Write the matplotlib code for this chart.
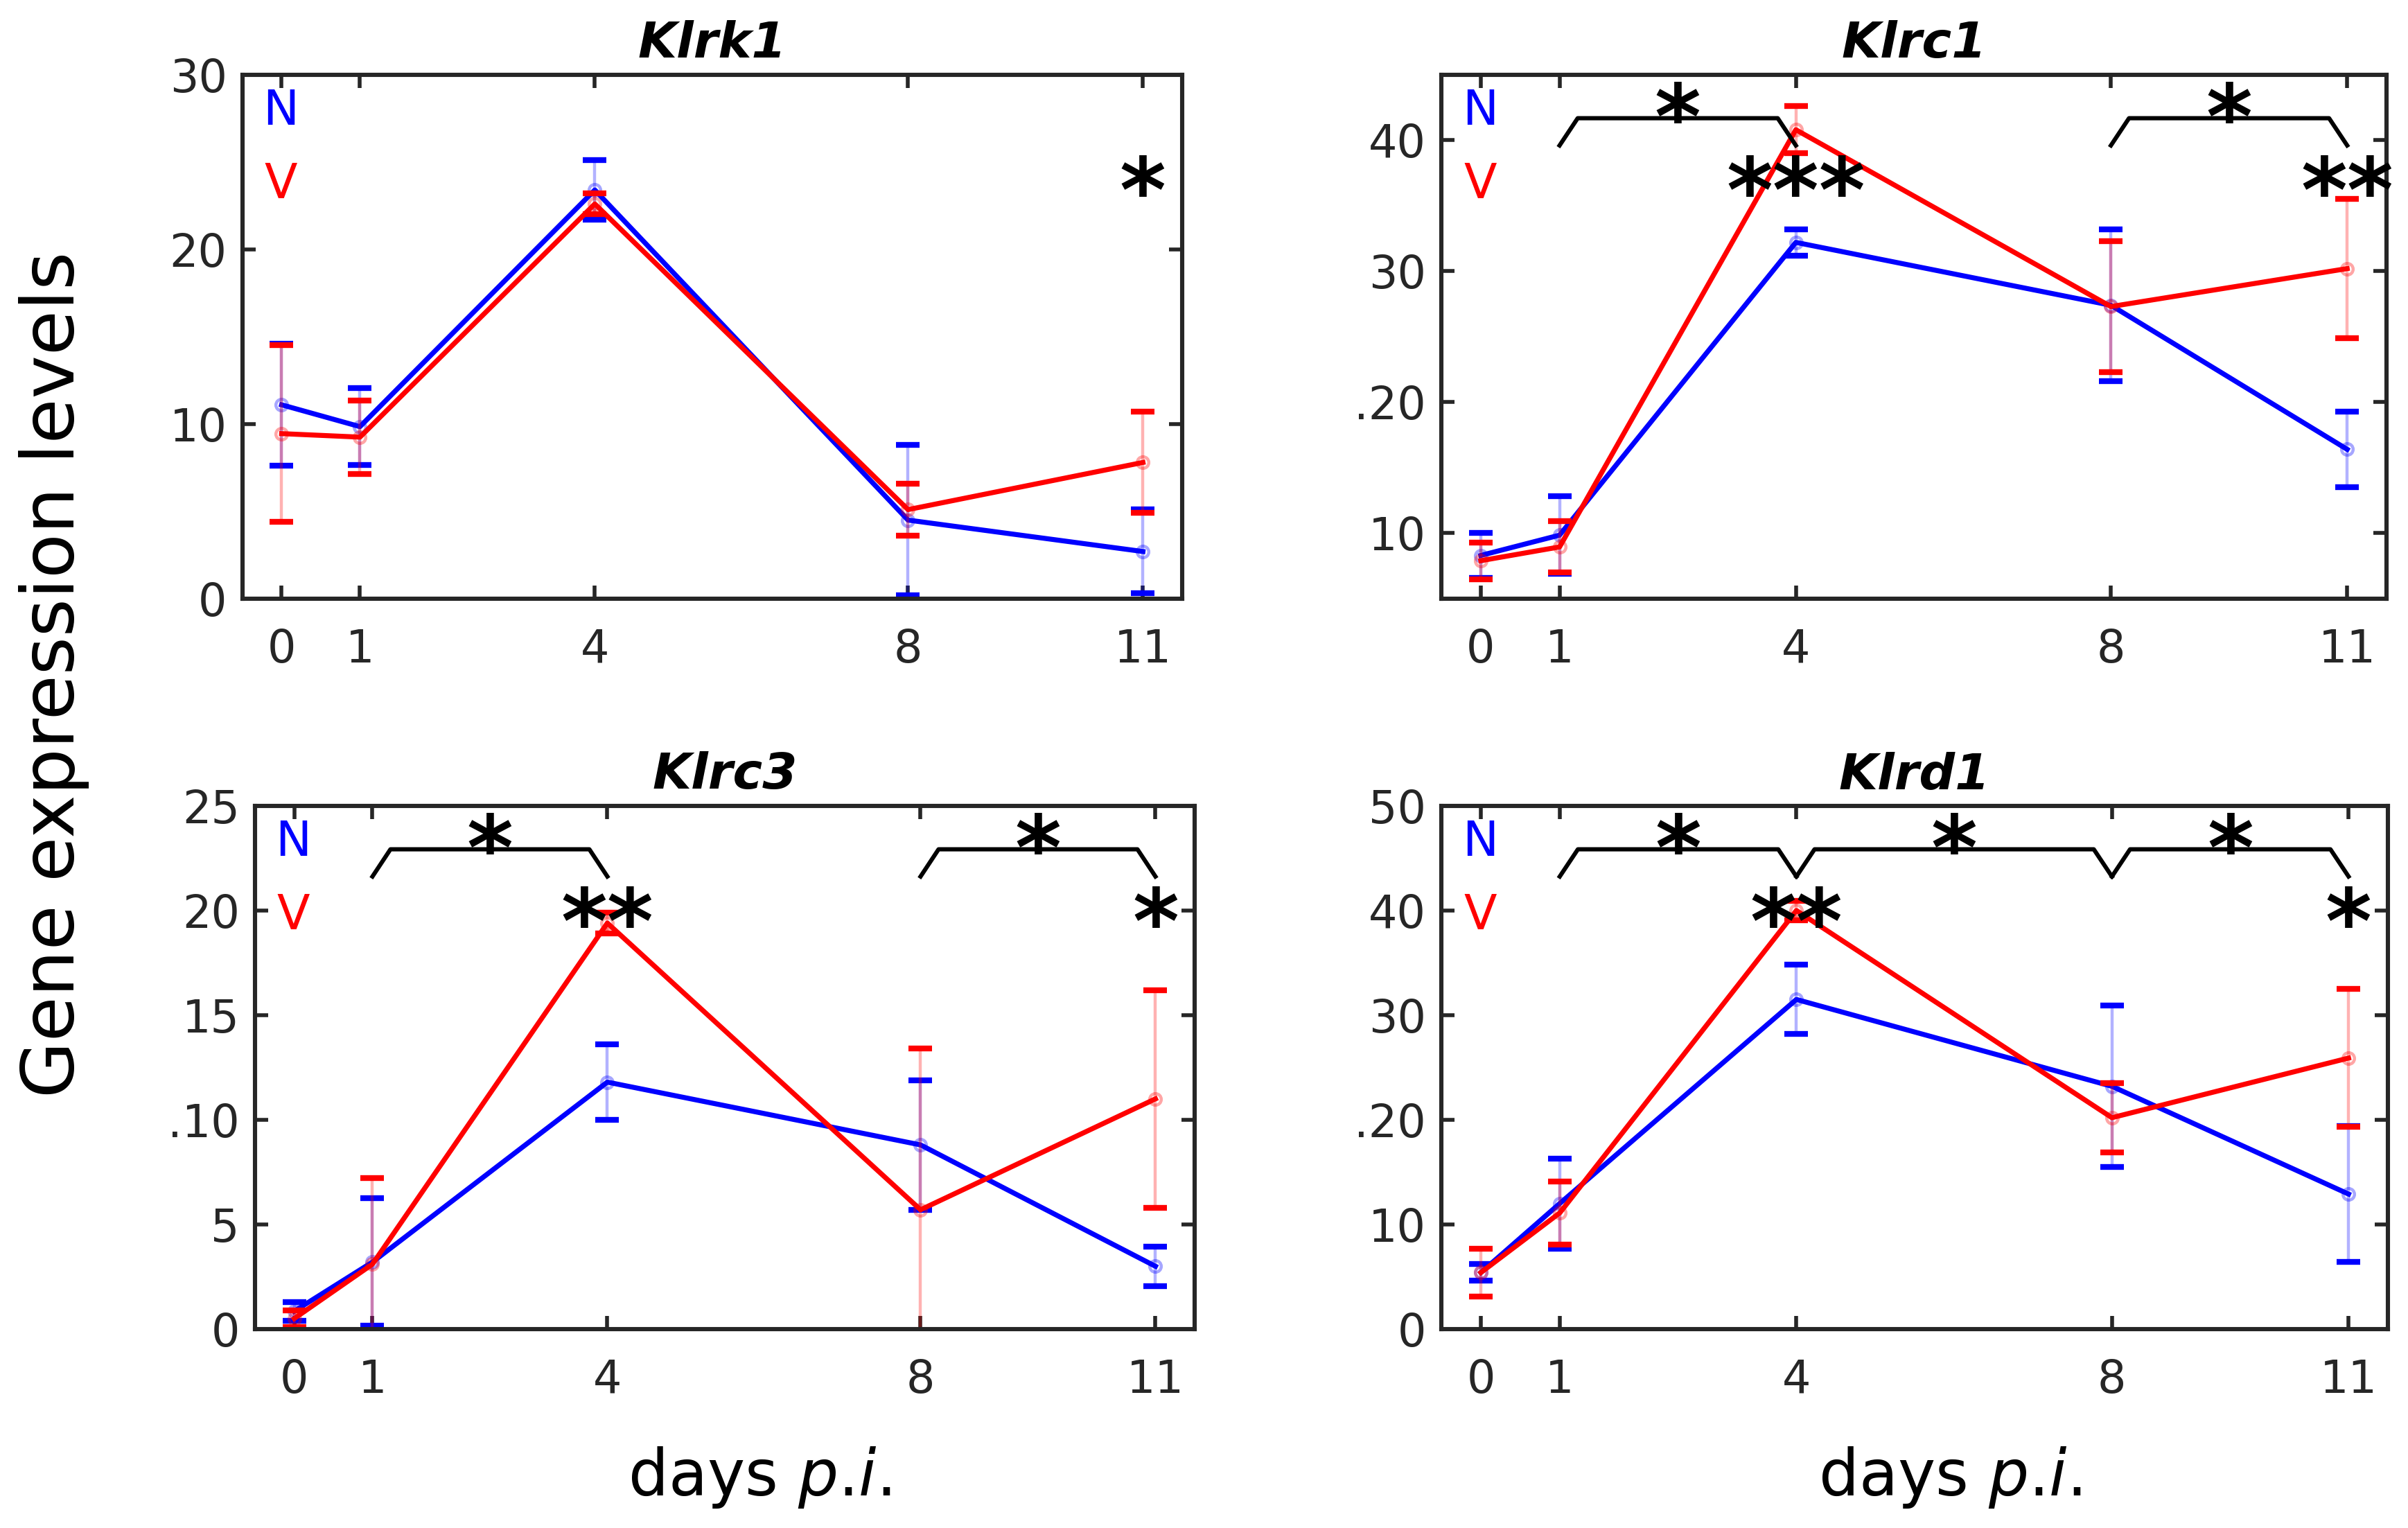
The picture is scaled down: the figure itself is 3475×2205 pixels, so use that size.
import matplotlib
matplotlib.use('Agg')
import matplotlib.pyplot as plt
import matplotlib.transforms as mtransforms

plt.rcParams['font.family'] = ['DejaVu Sans']
plt.rcParams['mathtext.fontset'] = 'dejavusans'

# data
days = [0, 1, 4, 8, 11]
genes = ['Klrk1', 'Klrc1', 'Klrc3', 'Klrd1']

klrk1_n = [11.1, 9.85, 23.4, 4.5, 2.7]
klrk1_n_err = [3.5, 2.2, 1.7, 4.3, 2.4]
klrk1_v = [9.45, 9.25, 22.6, 5.1, 7.8]
klrk1_v_err = [5.05, 2.1, 0.6, 1.5, 2.9]

klrc1_n = [8.3, 9.85, 32.2, 27.4, 16.4]
klrc1_n_err = [1.7, 2.95, 1.0, 5.8, 2.9]
klrc1_v = [7.9, 8.95, 40.8, 27.3, 30.2]
klrc1_v_err = [1.4, 1.95, 1.8, 5.0, 5.3]

klrc3_n = [0.85, 3.2, 11.8, 8.8, 3.0]
klrc3_n_err = [0.45, 3.05, 1.8, 3.1, 0.95]
klrc3_v = [0.5, 3.1, 19.4, 5.7, 11.0]
klrc3_v_err = [0.4, 4.1, 0.5, 7.7, 5.2]

klrd1_n = [5.4, 12.0, 31.5, 23.2, 12.9]
klrd1_n_err = [0.8, 4.3, 3.3, 7.7, 6.5]
klrd1_v = [5.4, 11.1, 40.0, 20.2, 25.9]
klrd1_v_err = [2.3, 3.0, 0.9, 3.3, 6.6]

n_means = [klrk1_n, klrc1_n, klrc3_n, klrd1_n]
n_errs = [klrk1_n_err, klrc1_n_err, klrc3_n_err, klrd1_n_err]
v_means = [klrk1_v, klrc1_v, klrc3_v, klrd1_v]
v_errs = [klrk1_v_err, klrc1_v_err, klrc3_v_err, klrd1_v_err]

ylims = [(0, 30), (5, 45), (0, 25), (0, 50)]
yticks = [[0, 10, 20, 30], [10, 20, 30, 40], [0, 5, 10, 15, 20, 25], [0, 10, 20, 30, 40, 50]]
ytick_labels = [['0', '10', '20', '30'],
                ['10', '.20', '30', '40'],
                ['0', '5', '.10', '15', '20', '25'],
                ['0', '10', '.20', '30', '40', '50']]

# significance: brackets between days and stars over single days
brackets = [[], [(1, 4, '*'), (8, 11, '*')], [(1, 4, '*'), (8, 11, '*')],
            [(1, 4, '*'), (4, 8, '*'), (8, 11, '*')]]
day_stars = [[(11, '*')], [(4, '***'), (11, '**')], [(4, '**'), (11, '*')], [(4, '**'), (11, '*')]]

rects = [[0.1007, 0.6082, 0.3902, 0.3429],
         [0.5986, 0.6082, 0.3925, 0.3429],
         [0.1059, 0.1302, 0.3902, 0.3424],
         [0.5986, 0.1302, 0.3931, 0.3424]]

axcol = '#262626'
star_fs = 46


def draw_series(ax, mean, err, col):
    lo = [m - e for m, e in zip(mean, err)]
    hi = [m + e for m, e in zip(mean, err)]
    ax.errorbar(days, mean, yerr=err, fmt='none', ecolor=col, elinewidth=1.6, alpha=0.3)
    ax.plot(days, hi, ls='none', marker='_', ms=12.5, mew=3, color=col)
    ax.plot(days, lo, ls='none', marker='_', ms=12.5, mew=3, color=col)
    ax.plot(days, mean, '-', color=col, lw=2.6)
    ax.plot(days, mean, ls='none', marker='o', ms=6, mfc='none', mec=col, mew=1.6, alpha=0.35)


def star(ax, trans, x, y, s):
    ax.annotate(s, xy=(x, y), xycoords=trans, xytext=(0, -0.58 * star_fs),
                textcoords='offset points', ha='center', va='baseline',
                fontsize=star_fs, fontweight='bold', color='k', annotation_clip=False)


fig = plt.figure(figsize=(17.375, 11.025), dpi=200)

for i, gene in enumerate(genes):
    ax = fig.add_axes(rects[i])
    trans = mtransforms.blended_transform_factory(ax.transData, ax.transAxes)

    draw_series(ax, n_means[i], n_errs[i], 'blue')
    draw_series(ax, v_means[i], v_errs[i], 'red')

    ax.set_xlim(-0.5, 11.5)
    ax.set_ylim(*ylims[i])
    ax.set_xticks(days)
    ax.set_yticks(yticks[i])
    ax.set_yticklabels(ytick_labels[i])
    ax.tick_params(direction='in', top=True, right=True, length=7, width=2,
                   labelsize=23.5, colors=axcol)
    ax.tick_params(axis='x', pad=15)
    ax.tick_params(axis='y', pad=8)
    for sp in ax.spines.values():
        sp.set_linewidth(2.2)
        sp.set_color(axcol)

    ax.set_title(gene, fontsize=26, fontweight='bold', fontstyle='italic', pad=9)
    ax.text(0.041, 0.93, 'N', color='blue', fontsize=25, ha='center', va='center',
            transform=ax.transAxes)
    ax.text(0.041, 0.79, 'V', color='red', fontsize=25, ha='center', va='center',
            transform=ax.transAxes)

    for a, b, s in brackets[i]:
        lev, drop = 0.917, 0.052
        ax.plot([a, a + 0.23, b - 0.23, b], [lev - drop, lev, lev, lev - drop],
                color='k', lw=2.2, transform=trans, clip_on=False)
        mid = (a + b) / 2
        ax.plot([mid, mid], [lev, 0.958], color='k', lw=2.2, transform=trans, clip_on=False)
        star(ax, trans, mid, 0.958, s)

    for d, s in day_stars[i]:
        star(ax, trans, d, 0.817, s)

    if i >= 2:
        ax.set_xlabel(r'days $\mathit{p}$.$\mathit{i}$.', fontsize=33)
        ax.xaxis.set_label_coords(0.537, -0.318)
        ax.xaxis.label.set_verticalalignment('baseline')

fig.text(0.0224, 0.5587, 'Gene expression levels', rotation=90, fontsize=38,
         ha='center', va='center')

fig.savefig('out.png', dpi=200, facecolor='white')
